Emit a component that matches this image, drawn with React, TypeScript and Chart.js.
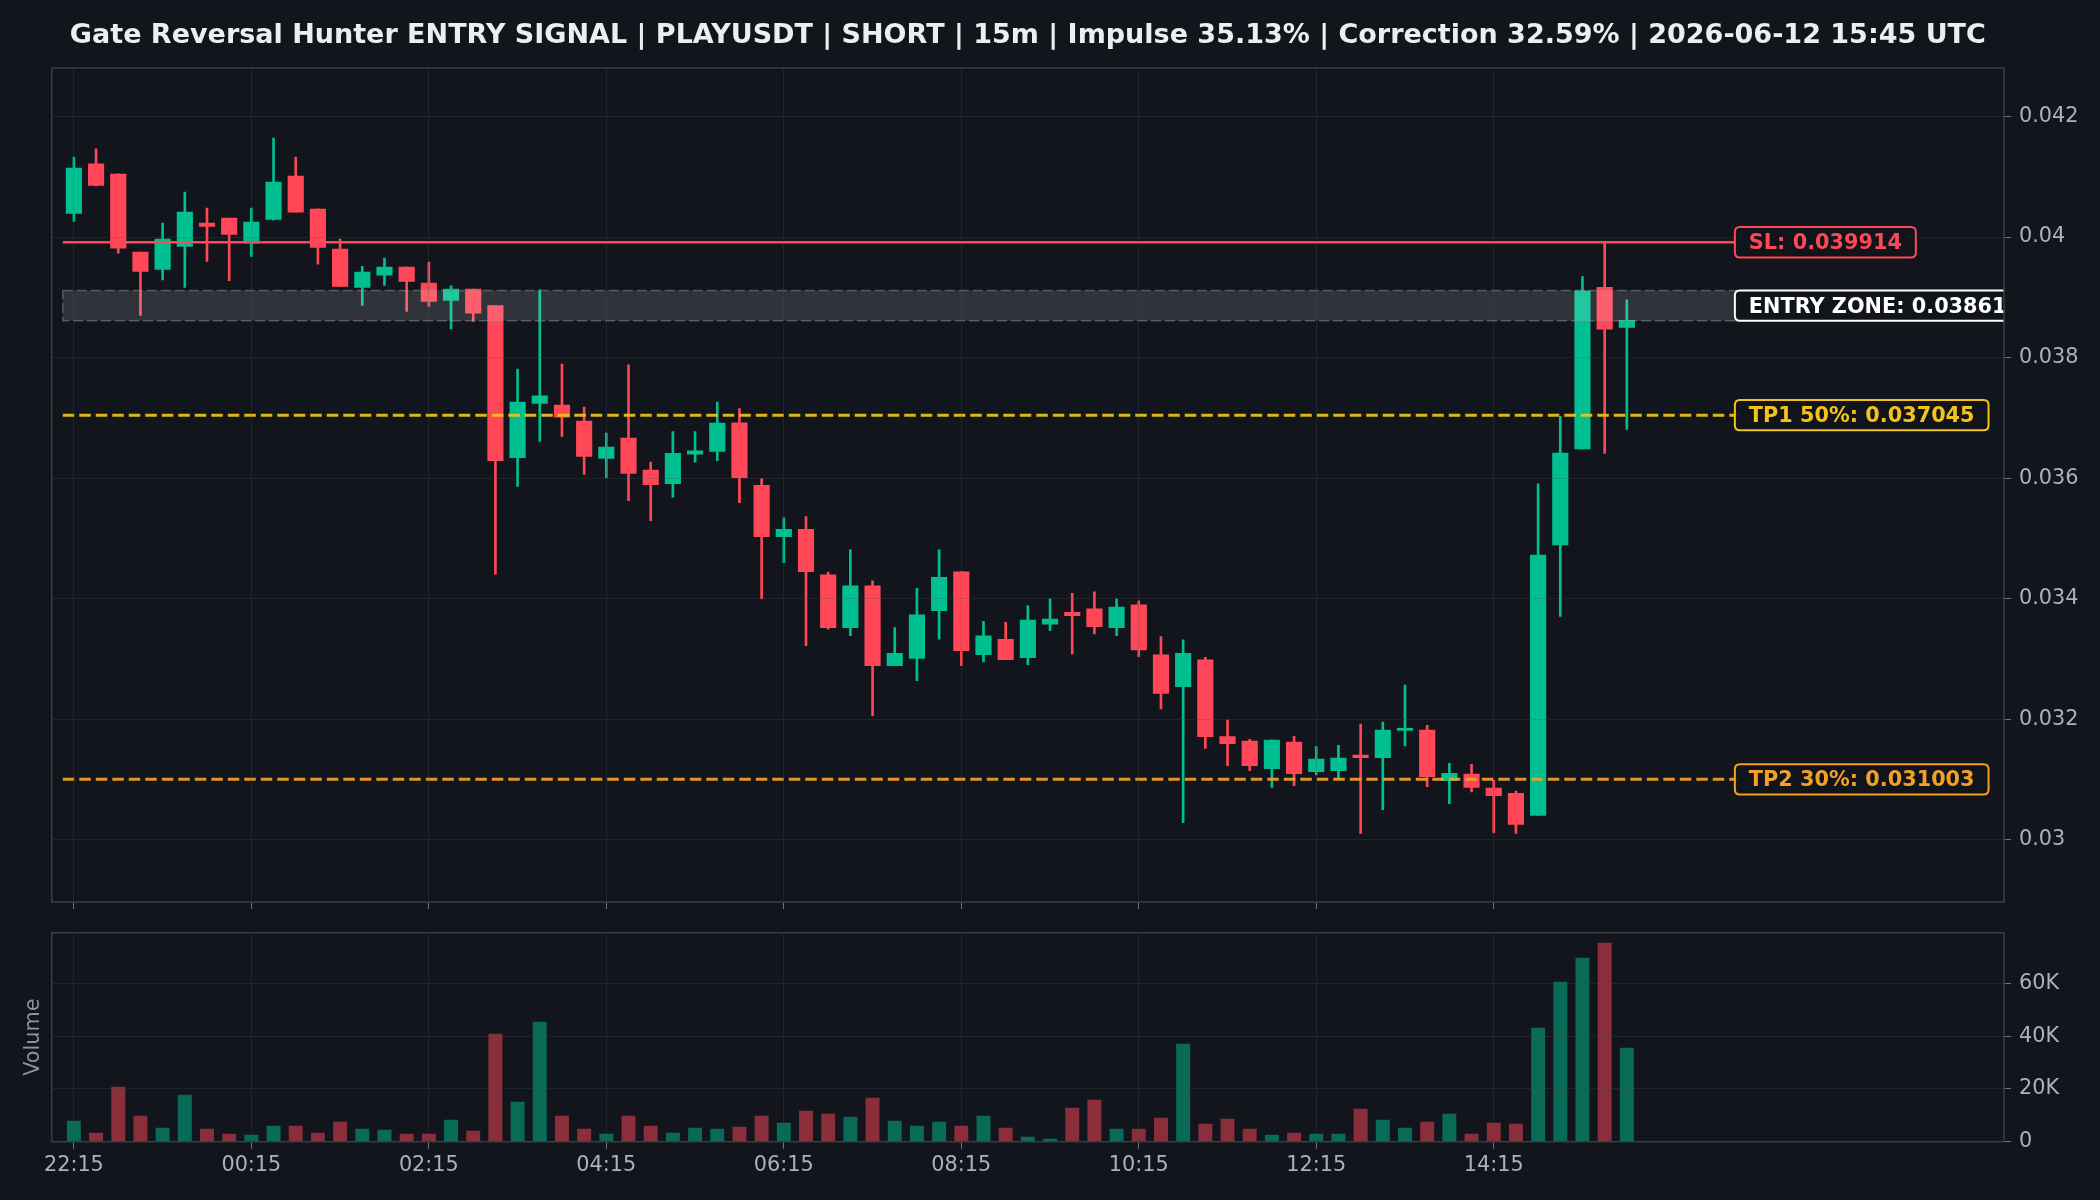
import React, { useEffect, useRef } from 'react';
import { Chart, registerables } from 'chart.js';

Chart.register(...registerables);

// ---------------- data ----------------
const TITLE =
  'Gate Reversal Hunter ENTRY SIGNAL | PLAYUSDT | SHORT | 15m | Impulse 35.13% | Correction 32.59% | 2026-06-12 15:45 UTC';

const OPEN = [
  0.040392, 0.041217, 0.041045, 0.03975, 0.039463, 0.039845, 0.040232, 0.040315, 0.0399, 0.040293,
  0.041012, 0.040464, 0.0398, 0.039164, 0.039369, 0.039502, 0.039236, 0.038948, 0.039136, 0.038865,
  0.036342, 0.037238, 0.037211, 0.036945, 0.036326, 0.036663, 0.036132, 0.03591, 0.036397, 0.036442,
  0.036918, 0.035883, 0.035031, 0.035153, 0.034395, 0.03352, 0.034212, 0.03289, 0.033011, 0.033802,
  0.034444, 0.033072, 0.033327, 0.033022, 0.033576, 0.033775, 0.03383, 0.03352, 0.033897, 0.033067,
  0.032541, 0.032984, 0.031711, 0.031639, 0.03118, 0.031622, 0.03113, 0.031147, 0.031407, 0.031362,
  0.031816, 0.031822, 0.030981, 0.031092, 0.030859, 0.03077, 0.030405, 0.034891, 0.036485, 0.039167,
  0.0385,
];
const HIGH = [
  0.041327, 0.041466, 0.04105, 0.03975, 0.040232, 0.040746, 0.040481, 0.040315, 0.040481, 0.041643,
  0.041327, 0.04047, 0.039966, 0.039513, 0.039651, 0.039502, 0.039584, 0.039192, 0.039136, 0.038865,
  0.037808, 0.039125, 0.037891, 0.037178, 0.036746, 0.03788, 0.036265, 0.036774, 0.036774, 0.037261,
  0.037155, 0.035994, 0.035341, 0.035363, 0.034439, 0.034809, 0.034295, 0.03352, 0.034173, 0.034809,
  0.03445, 0.033625, 0.033608, 0.03388, 0.033996, 0.03409, 0.034112, 0.033996, 0.033963, 0.033371,
  0.033316, 0.033027, 0.031988, 0.031667, 0.03166, 0.031717, 0.031545, 0.031567, 0.031921, 0.031954,
  0.032569, 0.031899, 0.031268, 0.031252, 0.030992, 0.030809, 0.035907, 0.037026, 0.039344, 0.03991,
  0.038959,
];
const LOW = [
  0.040259, 0.04085, 0.039734, 0.038699, 0.039291, 0.039164, 0.039596, 0.039275, 0.039679, 0.04028,
  0.040414, 0.039551, 0.039181, 0.038865, 0.039197, 0.038766, 0.038849, 0.038478, 0.0386, 0.034406,
  0.035861, 0.036608, 0.036691, 0.03606, 0.03601, 0.035628, 0.035296, 0.035684, 0.036265, 0.036292,
  0.035595, 0.034002, 0.034599, 0.033222, 0.033493, 0.033388, 0.03206, 0.03289, 0.032641, 0.033327,
  0.03289, 0.03295, 0.032989, 0.032906, 0.033471, 0.033083, 0.033415, 0.033388, 0.033039, 0.03217,
  0.030284, 0.031517, 0.031229, 0.031147, 0.03087, 0.030898, 0.031075, 0.03102, 0.030107, 0.030499,
  0.031556, 0.030881, 0.030599, 0.030793, 0.030118, 0.030107, 0.030405, 0.033706, 0.036485, 0.03641,
  0.03681,
];
const CLOSE = [
  0.041145, 0.040857, 0.039817, 0.03943, 0.039966, 0.040414, 0.040176, 0.040044, 0.040248, 0.040912,
  0.040414, 0.039828, 0.039181, 0.039418, 0.039502, 0.039264, 0.038932, 0.039136, 0.038738, 0.036292,
  0.037261, 0.037366, 0.037012, 0.036359, 0.036514, 0.036077, 0.035894, 0.036414, 0.036453, 0.036912,
  0.03601, 0.035031, 0.035153, 0.03445, 0.03352, 0.034212, 0.03289, 0.033094, 0.033731, 0.034356,
  0.033139, 0.033382, 0.032989, 0.033647, 0.033664, 0.033719, 0.033537, 0.033863, 0.03315, 0.03243,
  0.033094, 0.031711, 0.031595, 0.031229, 0.031656, 0.031097, 0.03134, 0.031357, 0.031362, 0.031822,
  0.031833, 0.031047, 0.031103, 0.03087, 0.030732, 0.030256, 0.034725, 0.036418, 0.039107, 0.03847,
  0.038619,
];
const VOLUME = [
  7841, 3295, 20719, 9735, 5189, 17689, 4810, 2917, 2538, 5947,
  5947, 3295, 7462, 4810, 4432, 2917, 2917, 8220, 4053, 40795,
  15038, 45340, 9735, 4810, 2917, 9735, 5947, 3295, 5189, 4810,
  5568, 9735, 7083, 11629, 10492, 9356, 16553, 7841, 5947, 7462,
  5947, 9735, 5189, 1780, 1023, 12765, 15795, 4810, 4810, 8977,
  37007, 6704, 8598, 4810, 2538, 3295, 2917, 2917, 12386, 8220,
  5189, 7462, 10492, 2917, 7083, 6704, 43067, 60491, 69581, 75264,
  35492,
];

const TICK_INDEX = [0, 8, 16, 24, 32, 40, 48, 56, 64];
const TICK_LABELS = ['22:15', '00:15', '02:15', '04:15', '06:15', '08:15', '10:15', '12:15', '14:15'];
const PRICE_TICKS = [0.03, 0.032, 0.034, 0.036, 0.038, 0.04, 0.042];
const PRICE_TICK_LABELS = ['0.03', '0.032', '0.034', '0.036', '0.038', '0.04', '0.042'];
const VOL_TICKS = [0, 20000, 40000, 60000];
const VOL_TICK_LABELS = ['0', '20K', '40K', '60K'];

const SL_PRICE = 0.039914;
const ZONE_LOW = 0.038611;
const ZONE_HIGH = 0.039114;
const TP1_PRICE = 0.037045;
const TP2_PRICE = 0.031003;

const LEVEL_LABELS = [
  { text: 'SL: 0.039914', value: SL_PRICE, color: '#ff4757', textColor: '#ff4757' },
  { text: 'ENTRY ZONE: 0.038611 - 0.039114', value: (ZONE_LOW + ZONE_HIGH) / 2, color: '#ffffff', textColor: '#ffffff' },
  { text: 'TP1 50%: 0.037045', value: TP1_PRICE, color: '#f2c318', textColor: '#f2c318' },
  { text: 'TP2 30%: 0.031003', value: TP2_PRICE, color: '#f3a126', textColor: '#f3a126' },
];

// ---------------- style ----------------
const BG = '#12151c';
const UP = '#00bf91';
const DOWN = '#ff4757';
const UP_VOL = 'rgba(0,191,145,0.5)';
const DOWN_VOL = 'rgba(255,71,87,0.5)';
const GRID = 'rgba(73,76,85,0.27)';
const TICK = '#6f747e';
const TICK_LABEL = '#adb1ba';
const SPINE = '#3a3e47';
const FONT = "'DejaVu Sans'";

const X_MIN = -1;
const X_MAX = 87;
const Y_MIN = 0.028968;
const Y_MAX = 0.042805;
const VOL_MAX = 79200;
const LINE_START = -0.5;
const LINE_END = 75;
const LABEL_X = 75.5;

function roundRect(ctx: CanvasRenderingContext2D, x: number, y: number, w: number, h: number, r: number) {
  ctx.beginPath();
  ctx.moveTo(x + r, y);
  ctx.lineTo(x + w - r, y);
  ctx.quadraticCurveTo(x + w, y, x + w, y + r);
  ctx.lineTo(x + w, y + h - r);
  ctx.quadraticCurveTo(x + w, y + h, x + w - r, y + h);
  ctx.lineTo(x + r, y + h);
  ctx.quadraticCurveTo(x, y + h, x, y + h - r);
  ctx.lineTo(x, y + r);
  ctx.quadraticCurveTo(x, y, x + r, y);
  ctx.closePath();
}

const framePlugin = {
  id: 'frame',
  afterDraw(chart: any) {
    const { ctx, chartArea } = chart;
    ctx.save();
    ctx.strokeStyle = SPINE;
    ctx.lineWidth = 1.5;
    ctx.strokeRect(chartArea.left, chartArea.top, chartArea.right - chartArea.left, chartArea.bottom - chartArea.top);
    ctx.restore();
  },
};

const levelsPlugin = {
  id: 'levels',
  afterDatasetsDraw(chart: any) {
    const { ctx, chartArea } = chart;
    const x = chart.scales.x;
    const y = chart.scales.y;
    ctx.save();
    ctx.beginPath();
    ctx.rect(chartArea.left, chartArea.top, chartArea.right - chartArea.left, chartArea.bottom - chartArea.top);
    ctx.clip();
    const x0 = x.getPixelForValue(LINE_START);
    const x1 = x.getPixelForValue(LINE_END);
    // entry zone
    const zt = y.getPixelForValue(ZONE_HIGH);
    const zb = y.getPixelForValue(ZONE_LOW);
    ctx.fillStyle = 'rgba(255,255,255,0.13)';
    ctx.fillRect(x0, zt, x1 - x0, zb - zt);
    ctx.setLineDash([10, 4]);
    ctx.strokeStyle = 'rgba(150,153,160,0.45)';
    ctx.lineWidth = 1.5;
    ctx.strokeRect(x0, zt, x1 - x0, zb - zt);
    // SL
    ctx.setLineDash([]);
    ctx.strokeStyle = DOWN;
    ctx.lineWidth = 2.4;
    const ys = y.getPixelForValue(SL_PRICE);
    ctx.beginPath();
    ctx.moveTo(x0, ys);
    ctx.lineTo(x1, ys);
    ctx.stroke();
    // TP lines
    const tps = [
      { v: TP1_PRICE, c: 'rgba(242,195,24,0.92)' },
      { v: TP2_PRICE, c: 'rgba(243,161,38,0.92)' },
    ];
    ctx.setLineDash([11.5, 5]);
    ctx.lineWidth = 3;
    for (const t of tps) {
      const yy = y.getPixelForValue(t.v);
      ctx.strokeStyle = t.c;
      ctx.beginPath();
      ctx.moveTo(x0, yy);
      ctx.lineTo(x1, yy);
      ctx.stroke();
    }
    ctx.restore();
  },
  afterDraw(chart: any) {
    const { ctx, chartArea } = chart;
    const x = chart.scales.x;
    const y = chart.scales.y;
    ctx.save();
    ctx.beginPath();
    ctx.rect(chartArea.left, chartArea.top - 2, chartArea.right - chartArea.left + 0.5, chartArea.bottom - chartArea.top + 4);
    ctx.clip();
    ctx.font = `bold 20.8px ${FONT}`;
    ctx.textBaseline = 'middle';
    ctx.textAlign = 'left';
    const tx = x.getPixelForValue(LABEL_X);
    const padX = 14;
    const halfH = 15.2;
    for (const l of LEVEL_LABELS) {
      const yy = y.getPixelForValue(l.value);
      const w = ctx.measureText(l.text).width;
      roundRect(ctx, tx - padX, yy - halfH, w + 2 * padX, 2 * halfH, 5);
      ctx.fillStyle = 'rgba(18,21,28,0.92)';
      ctx.fill();
      ctx.strokeStyle = l.color;
      ctx.lineWidth = 2;
      ctx.stroke();
      ctx.fillStyle = l.textColor;
      ctx.fillText(l.text, tx, yy + 1.5);
    }
    ctx.restore();
  },
};

const noPadding = (s: any) => {
  s.paddingTop = 0;
  s.paddingBottom = 0;
  s.paddingLeft = 0;
  s.paddingRight = 0;
};

export default function App() {
  const mainRef = useRef<HTMLCanvasElement>(null);
  const volRef = useRef<HTMLCanvasElement>(null);

  useEffect(() => {
    document.body.style.margin = '0';
    document.body.style.background = BG;
    const idx = CLOSE.map((_, i) => i);
    const up = idx.map((i) => CLOSE[i] >= OPEN[i]);
    const candleColors = up.map((u) => (u ? UP : DOWN));
    const volColors = up.map((u) => (u ? UP_VOL : DOWN_VOL));

    const bodies = idx.map((i) => ({ x: i, y: [Math.min(OPEN[i], CLOSE[i]), Math.max(OPEN[i], CLOSE[i])] }));
    const wicks = idx.map((i) => ({ x: i, y: [LOW[i], HIGH[i]] }));
    const vols = idx.map((i) => ({ x: i, y: VOLUME[i] }));

    const tickFont = { family: FONT, size: 20.8 };
    const xTicks = (s: any) => {
      s.ticks = TICK_INDEX.map((v) => ({ value: v }));
    };

    const mainChart = new Chart(mainRef.current as HTMLCanvasElement, {
      type: 'bar',
      data: {
        datasets: [
          {
            data: bodies as any,
            backgroundColor: candleColors,
            borderWidth: 0,
            barThickness: 15.5,
            minBarLength: 2,
            grouped: false,
            xAxisID: 'x',
            yAxisID: 'y',
          } as any,
          {
            data: wicks as any,
            backgroundColor: candleColors,
            borderWidth: 0,
            barThickness: 2,
            grouped: false,
            xAxisID: 'x',
            yAxisID: 'y',
          } as any,
        ],
      },
      options: {
        animation: false,
        responsive: false,
        devicePixelRatio: 1,
        events: [],
        layout: { padding: { left: 51.7, right: 0, top: 0, bottom: 0 } },
        plugins: {
          legend: { display: false },
          tooltip: { enabled: false },
          title: {
            display: true,
            text: TITLE,
            color: '#eceef2',
            font: { family: FONT, size: 27, weight: 'bold' },
            padding: { top: 19.4, bottom: 16.2 },
            fullSize: false,
          },
        },
        scales: {
          x: {
            type: 'linear',
            min: X_MIN,
            max: X_MAX,
            offset: false,
            afterBuildTicks: xTicks,
            afterFit: (s: any) => {
              s.height = 18;
              noPadding(s);
            },
            grid: { color: GRID, tickColor: TICK, tickLength: 7, z: 1, offset: false, lineWidth: 1 },
            border: { display: false },
            ticks: { display: false },
          },
          y: {
            type: 'linear',
            position: 'right',
            min: Y_MIN,
            max: Y_MAX,
            afterBuildTicks: (s: any) => {
              s.ticks = PRICE_TICKS.map((v) => ({ value: v }));
            },
            afterFit: (s: any) => {
              s.width = 96;
              noPadding(s);
            },
            grid: { color: GRID, tickColor: TICK, tickLength: 7, z: 1, lineWidth: 1 },
            border: { display: false },
            ticks: {
              color: TICK_LABEL,
              font: tickFont,
              padding: 8,
              callback: (v: any) => {
                const k = PRICE_TICKS.findIndex((p) => Math.abs(p - Number(v)) < 1e-9);
                return k >= 0 ? PRICE_TICK_LABELS[k] : '';
              },
            },
          },
        },
      } as any,
      plugins: [levelsPlugin, framePlugin],
    });

    const volChart = new Chart(volRef.current as HTMLCanvasElement, {
      type: 'bar',
      data: {
        datasets: [
          {
            data: vols as any,
            backgroundColor: volColors,
            borderWidth: 0,
            barThickness: 13.3,
            grouped: false,
            xAxisID: 'x',
            yAxisID: 'y',
          } as any,
        ],
      },
      options: {
        animation: false,
        responsive: false,
        devicePixelRatio: 1,
        events: [],
        layout: { padding: { left: 0, right: 0, top: 12.7, bottom: 0 } },
        plugins: { legend: { display: false }, tooltip: { enabled: false } },
        scales: {
          x: {
            type: 'linear',
            min: X_MIN,
            max: X_MAX,
            offset: false,
            afterBuildTicks: xTicks,
            afterFit: (s: any) => {
              s.height = 58.3;
              noPadding(s);
            },
            grid: { color: GRID, tickColor: TICK, tickLength: 7, z: 1, offset: false, lineWidth: 1 },
            border: { display: false },
            ticks: {
              color: TICK_LABEL,
              font: tickFont,
              padding: 4,
              maxRotation: 0,
              autoSkip: false,
              callback: (v: any) => {
                const k = TICK_INDEX.indexOf(Math.round(Number(v)));
                return k >= 0 ? TICK_LABELS[k] : '';
              },
            },
          },
          y: {
            type: 'linear',
            position: 'right',
            min: 0,
            max: VOL_MAX,
            afterBuildTicks: (s: any) => {
              s.ticks = VOL_TICKS.map((v) => ({ value: v }));
            },
            afterFit: (s: any) => {
              s.width = 96;
              noPadding(s);
            },
            grid: { color: GRID, tickColor: TICK, tickLength: 7, z: 1, lineWidth: 1 },
            border: { display: false },
            ticks: {
              color: TICK_LABEL,
              font: tickFont,
              padding: 8,
              callback: (v: any) => {
                const k = VOL_TICKS.indexOf(Math.round(Number(v)));
                return k >= 0 ? VOL_TICK_LABELS[k] : '';
              },
            },
          },
          yl: {
            type: 'linear',
            axis: 'y',
            position: 'left',
            min: 0,
            max: 1,
            afterFit: (s: any) => {
              s.width = 51.7;
              noPadding(s);
            },
            grid: { display: false },
            border: { display: false },
            ticks: { display: false },
            title: {
              display: true,
              text: 'Volume',
              color: '#8d929b',
              font: { family: FONT, size: 20.8 },
              padding: { top: 21, bottom: 0 },
            },
          },
        },
      } as any,
      plugins: [framePlugin],
    });

    return () => {
      mainChart.destroy();
      volChart.destroy();
    };
  }, []);

  return (
    <div style={{ position: 'relative', width: 2100, height: 1200, background: BG, overflow: 'hidden' }}>
      <canvas ref={mainRef} width={2100} height={920} style={{ position: 'absolute', left: 0, top: 0, display: 'block' }} />
      <canvas ref={volRef} width={2100} height={280} style={{ position: 'absolute', left: 0, top: 920, display: 'block' }} />
    </div>
  );
}
